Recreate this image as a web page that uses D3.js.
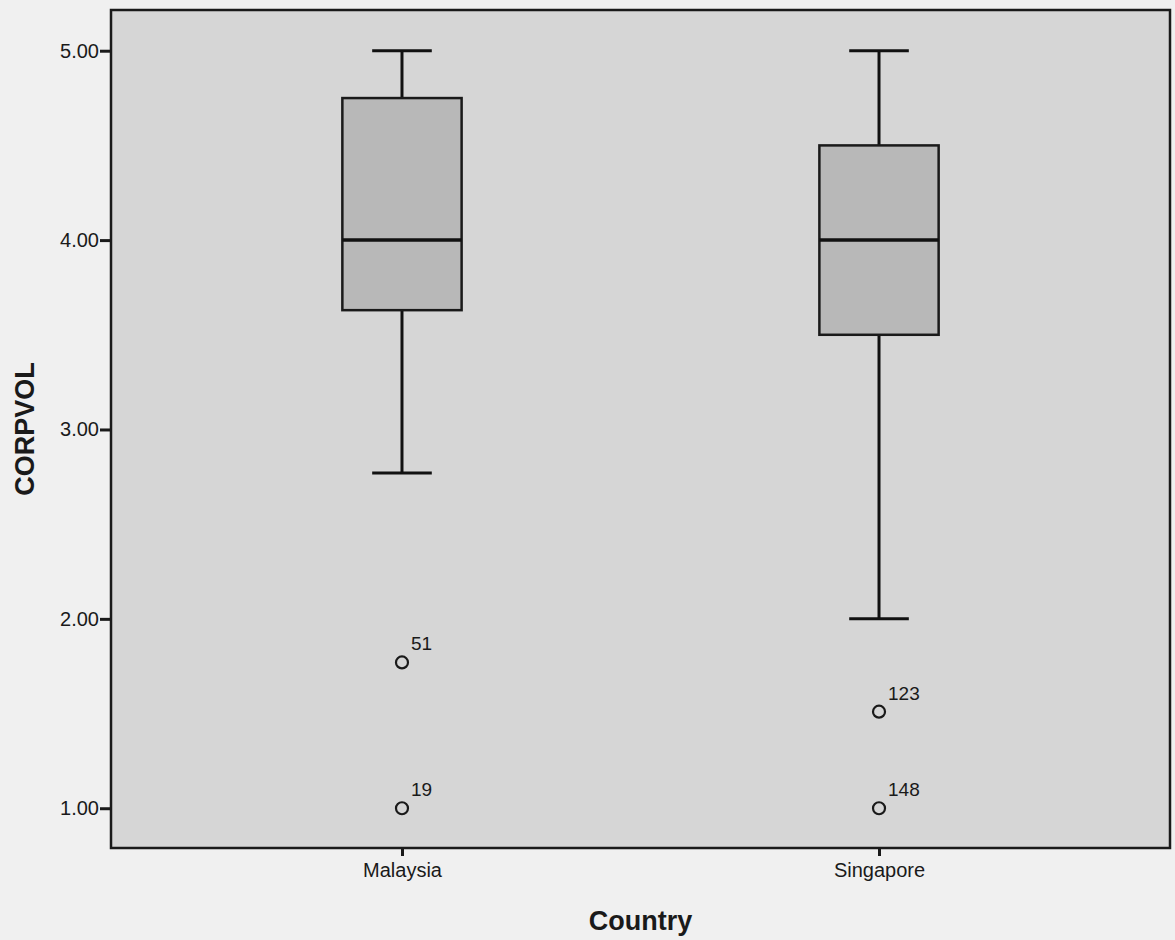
<!DOCTYPE html>
<html>
<head>
<meta charset="utf-8">
<script src="https://cdn.jsdelivr.net/npm/d3@7"></script>
<style>
  body { margin: 0; background: #f0f0f0; }
  svg { display: block; font-family: Arial, "Liberation Sans", sans-serif; }
</style>
</head>
<body>
<svg id="chart" width="1175" height="940"></svg>
<script>
// box plot values
const countries = ["Malaysia", "Singapore"];
const whiskerLow = [2.77, 2.0];
const q1 = [3.63, 3.5];
const median = [4.0, 4.0];
const q3 = [4.75, 4.5];
const whiskerHigh = [5.0, 5.0];
// outliers: [country, value, case id]
const outliers = [
    ["Malaysia", 1.77, "51"],
    ["Malaysia", 1.0, "19"],
    ["Singapore", 1.51, "123"],
    ["Singapore", 1.0, "148"]
];
const yTicks = [1, 2, 3, 4, 5];

const width = 1175, height = 940;
const margin = {top: 10, right: 5, bottom: 92, left: 111};

const svg = d3.select("svg#chart");

const x = d3.scalePoint()
    .domain(countries)
    .range([margin.left, width - margin.right])
    .padding(0.61);

const y = d3.scaleLinear()
    .domain([0.79, 5.215])
    .range([height - margin.bottom, margin.top]);

const boxW = x.step() * 0.25;

// plot background
svg.append("rect")
    .attr("x", margin.left)
    .attr("y", margin.top)
    .attr("width", width - margin.left - margin.right)
    .attr("height", height - margin.top - margin.bottom)
    .attr("fill", "#d6d6d6")
    .attr("stroke", "#1a1a1a")
    .attr("stroke-width", 2.5);

// axes
const yAxis = svg.append("g")
    .attr("transform", `translate(${margin.left},0)`)
    .call(d3.axisLeft(y).tickValues(yTicks).tickFormat(d3.format(".2f")).tickSize(11).tickPadding(1));

const xAxis = svg.append("g")
    .attr("transform", `translate(0,${height - margin.bottom})`)
    .call(d3.axisBottom(x).tickSize(8).tickPadding(7));

[yAxis, xAxis].forEach(a => {
    a.select(".domain").remove();
    a.selectAll(".tick line").attr("stroke", "#1a1a1a").attr("stroke-width", 3);
    a.selectAll(".tick text")
        .attr("fill", "#1a1a1a")
        .style("font-size", "20px")
        .style("font-family", "Arial, 'Liberation Sans', sans-serif");
});

// boxes
const data = countries.map((c, i) => ({
    c, lo: whiskerLow[i], q1: q1[i], med: median[i], q3: q3[i], hi: whiskerHigh[i]
}));

const box = svg.append("g")
    .selectAll("g")
    .data(data)
    .enter()
    .append("g");

box.append("line")
    .attr("x1", d => x(d.c)).attr("x2", d => x(d.c))
    .attr("y1", d => y(d.hi)).attr("y2", d => y(d.q3))
    .attr("stroke", "#111").attr("stroke-width", 3);

box.append("line")
    .attr("x1", d => x(d.c)).attr("x2", d => x(d.c))
    .attr("y1", d => y(d.q1)).attr("y2", d => y(d.lo))
    .attr("stroke", "#111").attr("stroke-width", 3);

box.selectAll(".cap")
    .data(d => [[d.c, d.hi], [d.c, d.lo]])
    .enter()
    .append("line")
    .attr("class", "cap")
    .attr("x1", d => x(d[0]) - boxW / 4).attr("x2", d => x(d[0]) + boxW / 4)
    .attr("y1", d => y(d[1])).attr("y2", d => y(d[1]))
    .attr("stroke", "#111").attr("stroke-width", 3);

box.append("rect")
    .attr("x", d => x(d.c) - boxW / 2)
    .attr("width", boxW)
    .attr("y", d => y(d.q3))
    .attr("height", d => y(d.q1) - y(d.q3))
    .attr("fill", "#b8b8b8")
    .attr("stroke", "#1a1a1a")
    .attr("stroke-width", 2.5);

box.append("line")
    .attr("x1", d => x(d.c) - boxW / 2).attr("x2", d => x(d.c) + boxW / 2)
    .attr("y1", d => y(d.med)).attr("y2", d => y(d.med))
    .attr("stroke", "#111").attr("stroke-width", 3.5);

// outliers
const out = svg.append("g")
    .selectAll("g")
    .data(outliers)
    .enter()
    .append("g")
    .attr("transform", d => `translate(${x(d[0])},${y(d[1])})`);

out.append("circle")
    .attr("r", 6)
    .attr("fill", "none")
    .attr("stroke", "#1a1a1a")
    .attr("stroke-width", 2.2);

out.append("text")
    .attr("x", 9)
    .attr("y", -12)
    .attr("fill", "#1a1a1a")
    .style("font-size", "19px")
    .text(d => d[2]);

// axis titles
svg.append("text")
    .attr("transform", `translate(34,${(margin.top + height - margin.bottom) / 2}) rotate(-90)`)
    .attr("text-anchor", "middle")
    .style("font-size", "27px")
    .style("font-weight", "bold")
    .attr("fill", "#1a1a1a")
    .text("CORPVOL");

svg.append("text")
    .attr("x", (margin.left + width - margin.right) / 2)
    .attr("y", 930)
    .attr("text-anchor", "middle")
    .style("font-size", "27px")
    .style("font-weight", "bold")
    .attr("fill", "#1a1a1a")
    .text("Country");
</script>
</body>
</html>
